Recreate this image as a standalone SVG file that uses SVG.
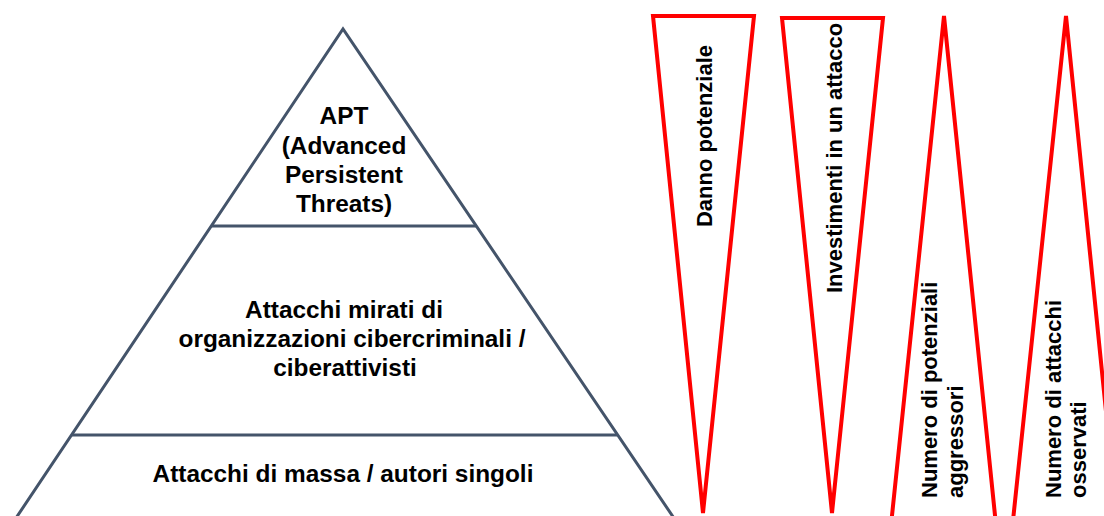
<svg xmlns="http://www.w3.org/2000/svg" width="1104" height="516" viewBox="0 0 1104 516">
<style>
.pyr{fill:none;stroke:#44546A;stroke-width:3;stroke-linejoin:miter}
.red{fill:#FFFFFF;stroke:#FF0000;stroke-width:4;stroke-linejoin:miter}
.pt{font-family:"Liberation Sans",Arial,sans-serif;font-weight:bold;font-size:24.4px;fill:#000;text-anchor:middle}
.vt{font-family:"Liberation Sans",Arial,sans-serif;font-weight:bold;font-size:22px;fill:#000}
</style>
<rect width="1104" height="516" fill="#FFFFFF"/>
<g id="pyramid">
<polyline class="pyr" points="8,530 343,29 682,530"/>
</g>
<g id="connectors">
<line class="pyr" x1="211" y1="226" x2="476" y2="226"/>
<line class="pyr" x1="71" y1="435" x2="617" y2="435"/>
</g>
<g id="level-apt">
<text class="pt" x="344" y="124">APT</text>
<text class="pt" x="344" y="154">(Advanced</text>
<text class="pt" x="344" y="183">Persistent</text>
<text class="pt" x="344" y="212">Threats)</text>
</g>
<g id="level-mirati">
<text class="pt" x="344" y="318">Attacchi mirati di</text>
<text class="pt" x="352" y="347">organizzazioni cibercriminali /</text>
<text class="pt" x="345" y="376">ciberattivisti</text>
</g>
<g id="level-massa">
<text class="pt" x="343" y="482">Attacchi di massa / autori singoli</text>
</g>
<g id="danno">
<polygon class="red" points="653,16 754,16 703,513"/>
<text class="vt" transform="translate(712,136) rotate(-90)" text-anchor="middle">Danno potenziale</text>
</g>
<g id="investimenti">
<polygon class="red" points="782,18 883,18 832,513"/>
<text class="vt" transform="translate(842,158) rotate(-90)" text-anchor="middle">Investimenti in un attacco</text>
</g>
<g id="aggressori">
<polygon class="red" points="944,16 996.5,530 890.5,530"/>
<text class="vt" transform="translate(937,498) rotate(-90)">Numero di potenziali</text>
<text class="vt" transform="translate(963,498) rotate(-90)">aggressori</text>
</g>
<g id="attacchi">
<polygon class="red" points="1066,16 1118,530 1012,530"/>
<text class="vt" transform="translate(1061,498) rotate(-90)">Numero di attacchi</text>
<text class="vt" transform="translate(1086,498) rotate(-90)">osservati</text>
</g>
</svg>
